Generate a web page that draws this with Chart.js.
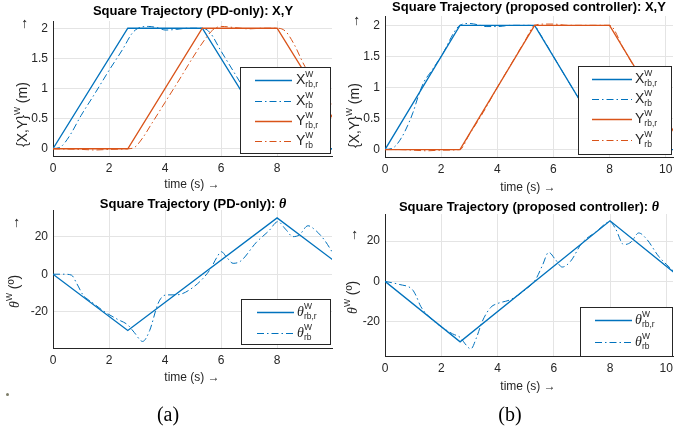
<!DOCTYPE html>
<html>
<head>
<meta charset="utf-8">
<script src="https://cdn.jsdelivr.net/npm/chart.js@4.4.1/dist/chart.umd.min.js"></script>
<style>
body { margin: 0; background: #fff; width: 686px; height: 431px; overflow: hidden; position: relative; }
canvas { position: absolute; }
.caption { position: absolute; width: 60px; text-align: center; font-family: "Liberation Serif", "Times New Roman", serif; font-size: 20px; line-height: 22px; color: #000; }
.dot { position: absolute; left: 6px; top: 393px; width: 3px; height: 3px; border-radius: 50%; background: #7d7d68; }
</style>
</head>
<body>
<canvas id="xyPD" width="343" height="195" style="left:0;top:0"></canvas>
<canvas id="xyProp" width="343" height="195" style="left:343px;top:0"></canvas>
<canvas id="thPD" width="343" height="236" style="left:0;top:195px"></canvas>
<canvas id="thProp" width="343" height="236" style="left:343px;top:195px"></canvas>
<div class="dot"></div>
<div class="caption" style="left:138px;top:403px">(a)</div>
<div class="caption" style="left:480px;top:403px">(b)</div>
<script>
// reference square trajectory (s, m, deg)
var refTimeXY = [0, 2.67, 5.33, 8, 10.67];
var refX = [0, 2, 2, 0, 0];
var refY = [0, 0, 2, 2, 0];
var refTimeTheta = [0, 2.67, 8, 10.67];
var refTheta = [0, -30, 30, 0];

// PD-only measured
var pdTimeX = [0, 0.3, 0.6, 1.0, 1.5, 2.0, 2.5, 2.8, 3.0, 3.4, 3.8, 4.0, 4.4, 4.8, 5.33, 5.6, 6.0, 6.5, 7.0, 7.5, 8.0, 8.3, 8.6, 9.0, 9.5, 9.96];
var pdX = [0, 0.04, 0.22, 0.55, 0.92, 1.3, 1.66, 1.9, 1.99, 2.03, 2.0, 1.97, 1.98, 2.0, 2.0, 1.93, 1.62, 1.24, 0.86, 0.5, 0.18, 0.05, 0.0, -0.01, 0.0, 0.0];
var pdTimeY = [0, 1.0, 1.5, 2.0, 2.67, 2.9, 3.2, 3.5, 4.0, 4.5, 5.0, 5.4, 5.7, 6.0, 6.5, 7.0, 7.5, 8.0, 8.3, 8.6, 9.0, 9.5, 9.96];
var pdY = [0, -0.01, -0.02, -0.01, 0, 0.02, 0.18, 0.4, 0.77, 1.14, 1.52, 1.8, 1.97, 2.03, 2.01, 1.99, 2.0, 2.0, 1.95, 1.74, 1.36, 1.04, 0.72];
var pdTimeTheta = [0, 0.4, 0.66, 0.85, 1.07, 1.4, 1.86, 2.3, 2.67, 2.9, 3.2, 3.45, 3.74, 3.9, 4.1, 4.4, 5.0, 5.6, 5.85, 6.01, 6.2, 6.43, 6.7, 7.26, 7.7, 8.03, 8.3, 8.57, 8.8, 9.1, 9.4, 9.7, 9.96];
var pdTheta = [0, 0, -0.5, -5, -11, -15, -20.2, -24, -27, -31, -35.8, -30, -16, -12, -11, -11, -7, 2.3, 9, 12, 9, 5.8, 7, 17, 23, 28, 24, 20, 21, 25.8, 23, 18, 12];

// proposed controller measured
var propTimeX = [0, 0.3, 0.6, 0.8, 1.0, 1.2, 1.4, 1.6, 2.0, 2.67, 3.0, 3.3, 3.6, 4.0, 4.5, 5.0, 5.33, 5.5, 6.0, 6.5, 7.0, 7.5, 8.0, 8.5, 9.0, 9.5, 10.0, 10.26];
var propX = [0, 0.03, 0.2, 0.38, 0.6, 0.88, 1.1, 1.23, 1.5, 2.0, 2.03, 2.01, 1.98, 1.98, 2.0, 2.0, 1.99, 1.88, 1.5, 1.12, 0.75, 0.38, 0.01, 0, 0, 0, 0, 0];
var propTimeY = [0, 0.5, 1.0, 1.5, 2.0, 2.67, 3.0, 3.5, 4.0, 4.5, 5.0, 5.33, 5.7, 6.0, 6.5, 7.0, 7.5, 8.0, 8.5, 9.0, 9.5, 10.0, 10.26];
var propY = [0, 0.0, -0.01, -0.02, -0.01, 0.0, 0.24, 0.6, 1.0, 1.38, 1.76, 2.0, 2.02, 2.02, 2.0, 2.0, 2.0, 2.0, 1.62, 1.24, 0.88, 0.5, 0.3];
var propTimeTheta = [0, 0.5, 0.97, 1.1, 1.27, 1.68, 2.0, 2.4, 2.69, 2.85, 3.05, 3.25, 3.46, 3.76, 4.0, 4.47, 5.0, 5.35, 5.6, 5.82, 6.05, 6.3, 6.6, 7.0, 7.5, 8.0, 8.2, 8.49, 8.75, 9.02, 9.3, 9.73, 10.0, 10.26];
var propTheta = [0, -1.5, -4, -7, -12.4, -19, -22.5, -26, -28, -31, -33.5, -28, -19.8, -12.9, -11, -9, -4, 0.8, 8, 14.4, 11, 7.1, 10, 19, 24.5, 29.5, 26, 18.2, 19.5, 24, 21, 12.4, 8.5, 5];

// tick labels
var xTicksPD = [0, 2, 4, 6, 8];
var xTicksProp = [0, 2, 4, 6, 8, 10];
var yTicksXY = [0, 0.5, 1, 1.5, 2];
var yTicksTheta = [-20, 0, 20];

var SANS = '"Liberation Sans", Arial, Helvetica, sans-serif';
var SERIF = '"Liberation Serif", "Times New Roman", serif';
var BLUE = '#0072BD';
var ORANGE = '#D95319';
var INK = '#262626';
var GRID = '#e4e4e4';
var DASHDOT = [7, 3, 1.5, 3];
var F12 = '12px ' + SANS;
var F14 = '14px ' + SANS;
var SMALL = '8.5px ' + SANS;
var BOLD = 'bold 13px ' + SANS;
var THETA = 'italic 14px ' + SERIF;

function toPoints(t, v) {
    return t.map(function(x, i) { return {x: x, y: v[i]}; });
}

function lineSet(label, t, v, color, measured, order) {
    return {
        label: label,
        data: toPoints(t, v),
        borderColor: color,
        borderWidth: measured ? 1 : 1.3,
        borderDash: measured ? DASHDOT : [],
        pointRadius: 0,
        tension: 0,
        cubicInterpolationMode: measured ? 'monotone' : 'default',
        fill: false,
        order: order
    };
}

// width of a text run made of plain parts and stacked sup/sub parts
function richWidth(ctx, parts) {
    var w = 0;
    parts.forEach(function(p) {
        if (p.sup !== undefined) {
            ctx.font = SMALL;
            w += Math.max(ctx.measureText(p.sup).width, ctx.measureText(p.sub || '').width);
        } else {
            ctx.font = p.font || F12;
            w += ctx.measureText(p.text).width;
        }
    });
    return w;
}

function drawRich(ctx, parts, x, y) {
    ctx.textAlign = 'left';
    ctx.textBaseline = 'middle';
    parts.forEach(function(p) {
        if (p.sup !== undefined) {
            ctx.font = SMALL;
            ctx.fillText(p.sup, x, y - 5);
            if (p.sub) ctx.fillText(p.sub, x, y + 5);
            x += Math.max(ctx.measureText(p.sup).width, ctx.measureText(p.sub || '').width);
        } else {
            ctx.font = p.font || F12;
            ctx.fillText(p.text, x, y);
            x += ctx.measureText(p.text).width;
        }
    });
}

function drawCentered(ctx, parts, x, y) {
    drawRich(ctx, parts, x - richWidth(ctx, parts) / 2, y);
}

// titles, axis labels and legend with TeX-like super/subscripts
function texPlugin(tex) {
    return {
        id: 'texLabels',
        afterDraw: function(chart) {
            var ctx = chart.ctx;
            ctx.save();
            ctx.fillStyle = '#000';
            drawCentered(ctx, tex.title, tex.titleAt[0], tex.titleAt[1]);
            ctx.fillStyle = INK;
            drawCentered(ctx, [{text: 'time (s) \u2192'}], tex.xTitleAt[0], tex.xTitleAt[1]);
            // y label runs upward from its bottom end, the arrow sits apart near the top
            ctx.save();
            ctx.translate(tex.yTitleAt[0], tex.yTitleAt[1]);
            ctx.rotate(-Math.PI / 2);
            drawRich(ctx, tex.yTitle, 0, 0);
            ctx.restore();
            ctx.save();
            ctx.translate(tex.yTitleAt[0], tex.yArrowAt);
            ctx.rotate(-Math.PI / 2);
            drawCentered(ctx, [{text: '\u2192', font: F14}], 0, 0);
            ctx.restore();

            var lg = tex.legend;
            ctx.fillStyle = '#fff';
            ctx.fillRect(lg.box[0], lg.box[1], lg.box[2], lg.box[3]);
            ctx.strokeStyle = INK;
            ctx.lineWidth = 1;
            ctx.strokeRect(lg.box[0] + 0.5, lg.box[1] + 0.5, lg.box[2], lg.box[3]);
            lg.rows.forEach(function(row, i) {
                var ds = chart.data.datasets[i];
                var y = lg.rowY[i];
                ctx.strokeStyle = ds.borderColor;
                ctx.lineWidth = ds.borderWidth;
                ctx.setLineDash(ds.borderDash);
                ctx.beginPath();
                ctx.moveTo(lg.lineX[0], y + 0.5);
                ctx.lineTo(lg.lineX[1], y + 0.5);
                ctx.stroke();
                ctx.setLineDash([]);
                ctx.fillStyle = INK;
                drawRich(ctx, row, lg.textX, y);
            });
            ctx.restore();
        }
    };
}

function makeChart(id, area, datasets, xMax, yMin, yMax, xTicks, yTicks, tex) {
    var canvas = document.getElementById(id);
    var w = canvas.width, h = canvas.height;
    var tickFont = {family: SANS, size: 12};
    return new Chart(canvas, {
        type: 'line',
        data: {datasets: datasets},
        options: {
            responsive: false,
            animation: false,
            events: [],
            layout: {padding: {left: 0, top: area.top, right: w - area.right, bottom: 0}},
            scales: {
                x: {
                    type: 'linear', min: 0, max: xMax,
                    afterBuildTicks: function(s) { s.ticks = xTicks.map(function(v) { return {value: v}; }); },
                    afterFit: function(s) { s.height = h - area.bottom; },
                    grid: {color: GRID, drawTicks: false},
                    border: {color: INK, width: 1},
                    ticks: {color: INK, padding: 5, font: tickFont, maxRotation: 0, callback: function(v) { return String(v); }}
                },
                y: {
                    type: 'linear', min: yMin, max: yMax,
                    afterBuildTicks: function(s) { s.ticks = yTicks.map(function(v) { return {value: v}; }); },
                    afterFit: function(s) { s.width = area.left; },
                    grid: {color: GRID, drawTicks: false},
                    border: {color: INK, width: 1},
                    ticks: {color: INK, padding: 5, font: tickFont, callback: function(v) { return String(v); }}
                }
            },
            plugins: {legend: {display: false}, tooltip: {enabled: false}}
        },
        plugins: [texPlugin(tex)]
    });
}

function xyLegend(box, lineX, textX, rowY) {
    return {
        box: box, lineX: lineX, textX: textX, rowY: rowY,
        rows: [
            [{text: 'X', font: F14}, {sup: 'W', sub: 'rb,r'}],
            [{text: 'X', font: F14}, {sup: 'W', sub: 'rb'}],
            [{text: 'Y', font: F14}, {sup: 'W', sub: 'rb,r'}],
            [{text: 'Y', font: F14}, {sup: 'W', sub: 'rb'}]
        ]
    };
}

function thetaLegend(box, lineX, textX, rowY) {
    return {
        box: box, lineX: lineX, textX: textX, rowY: rowY,
        rows: [
            [{text: '\u03b8', font: THETA}, {sup: 'W', sub: 'rb,r'}],
            [{text: '\u03b8', font: THETA}, {sup: 'W', sub: 'rb'}]
        ]
    };
}

var xyTitle = [{text: '{X,Y}', font: F14}, {sup: 'W'}, {text: ' (m)', font: F14}];
var thetaTitle = [{text: '\u03b8', font: THETA}, {sup: 'W'}, {text: ' (\u00ba)', font: F14}];

makeChart('xyPD', {left: 53, right: 332, top: 21, bottom: 156}, [
    lineSet('X ref', refTimeXY, refX, BLUE, false, 4),
    lineSet('X', pdTimeX, pdX, BLUE, true, 3),
    lineSet('Y ref', refTimeXY, refY, ORANGE, false, 2),
    lineSet('Y', pdTimeY, pdY, ORANGE, true, 1)
], 9.96, -0.12, 2.12, xTicksPD, yTicksXY, {
    title: [{text: 'Square Trajectory (PD-only): X,Y', font: BOLD}],
    titleAt: [193, 11], xTitleAt: [192, 185], yTitleAt: [23, 147], yArrowAt: 24, yTitle: xyTitle,
    legend: xyLegend([240, 67, 90, 86], [255, 292], 296, [80, 101, 121, 141])
});

makeChart('xyProp', {left: 42, right: 330, top: 16, bottom: 157}, [
    lineSet('X ref', refTimeXY, refX, BLUE, false, 4),
    lineSet('X', propTimeX, propX, BLUE, true, 3),
    lineSet('Y ref', refTimeXY, refY, ORANGE, false, 2),
    lineSet('Y', propTimeY, propY, ORANGE, true, 1)
], 10.26, -0.12, 2.15, xTicksProp, yTicksXY, {
    title: [{text: 'Square Trajectory (proposed controller): X,Y', font: BOLD}],
    titleAt: [186, 7], xTitleAt: [185, 188], yTitleAt: [12, 148], yArrowAt: 21, yTitle: xyTitle,
    legend: xyLegend([235, 66, 93, 88], [249, 289], 292, [79, 99, 119, 140])
});

makeChart('thPD', {left: 53, right: 332, top: 15, bottom: 153}, [
    lineSet('theta ref', refTimeTheta, refTheta, BLUE, false, 2),
    lineSet('theta', pdTimeTheta, pdTheta, BLUE, true, 1)
], 9.96, -39.3, 34.2, xTicksPD, yTicksTheta, {
    title: [{text: 'Square Trajectory (PD-only): ', font: BOLD}, {text: '\u03b8', font: 'bold italic 14px ' + SERIF}],
    titleAt: [193, 9], xTitleAt: [192, 183], yTitleAt: [15, 113], yArrowAt: 28, yTitle: thetaTitle,
    legend: thetaLegend([241, 104, 89, 45], [257, 294], 297, [117, 138])
});

makeChart('thProp', {left: 42, right: 330, top: 19, bottom: 161}, [
    lineSet('theta ref', refTimeTheta, refTheta, BLUE, false, 2),
    lineSet('theta', propTimeTheta, propTheta, BLUE, true, 1)
], 10.24, -37, 33.4, xTicksProp, yTicksTheta, {
    title: [{text: 'Square Trajectory (proposed controller): ', font: BOLD}, {text: '\u03b8', font: 'bold italic 14px ' + SERIF}],
    titleAt: [186, 12], xTitleAt: [185, 192], yTitleAt: [10, 119], yArrowAt: 40, yTitle: thetaTitle,
    legend: thetaLegend([237, 112, 92, 49], [252, 289], 292, [125, 147])
});
</script>
</body>
</html>
